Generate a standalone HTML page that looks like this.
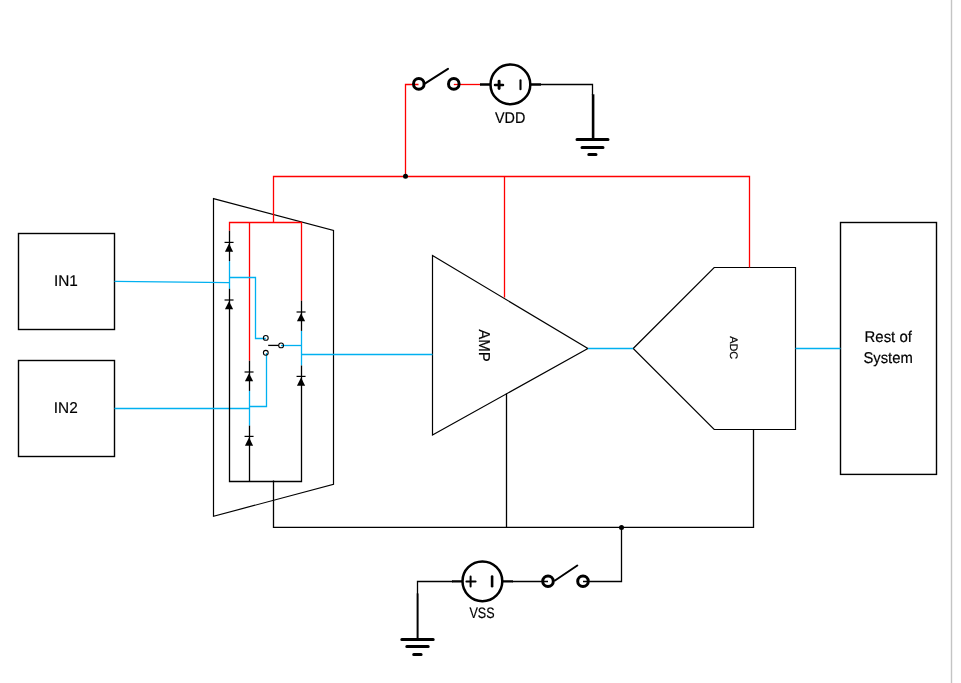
<!DOCTYPE html>
<html><head><meta charset="utf-8"><title>Circuit</title>
<style>
html,body{margin:0;padding:0;background:#fff;width:961px;height:683px;overflow:hidden;position:relative}
svg{display:block;position:absolute;left:0;top:0}
.tx{filter:grayscale(1)}
text{font-family:"Liberation Sans",sans-serif;fill:#000;stroke:#000;stroke-width:0.2px;text-rendering:geometricPrecision}
</style></head><body>
<svg width="961" height="683" viewBox="0 0 961 683">
<rect x="0" y="0" width="961" height="683" fill="#fff"/>
<!-- page border -->
<line x1="951.5" y1="0" x2="951.5" y2="683" stroke="#c4c4c4" stroke-width="1.4"/>

<g fill="none" stroke-width="1.3" stroke-linejoin="miter">
<g stroke="#000">
<!-- trapezoid -->
<polygon points="213.5,198.6 333.5,230.4 333.5,484.3 213.5,516.3" stroke-width="1.2"/>
<!-- AMP -->
<polygon points="432.5,255.5 587.9,348.5 432.5,435" stroke-width="1.2"/>
<!-- ADC -->
<polygon points="633.2,348.5 714.2,267.5 795.5,267.5 795.5,429.5 714.2,429.5" stroke-width="1.2"/>
<!-- boxes -->
<rect x="18.5" y="233.5" width="96" height="96" stroke-width="1.4"/>
<rect x="18.5" y="360.5" width="96" height="96" stroke-width="1.4"/>
<rect x="840.5" y="222.5" width="96" height="251.9" stroke-width="1.4"/>
</g>
<!-- red wires -->
<g stroke="#ff0000">
<path d="M405.5,176.5 V84.5 H418.5"/>
<path d="M453.8,84.5 H481"/>
<path d="M273.5,222.5 V176.5 H749.5 V267.5"/>
<path d="M504.5,176.5 V297.5"/>
<path d="M229.5,230.7 V222.5 H301.5 V300.7"/>
<path d="M249.5,222.5 V360.7"/>
</g>
<!-- blue wires -->
<g stroke="#00b0f0">
<path d="M114.5,281.3 L229.5,282.6"/>
<path d="M229.5,261.2 V288.8"/>
<path d="M229.5,277.5 H255.5 V338.5 H265.8"/>
<path d="M114.5,408.5 H249.5"/>
<path d="M249.5,390.9 V425.6"/>
<path d="M249.5,406.5 H266.5 V353"/>
<path d="M281,345.5 H301.5"/>
<path d="M301.5,330.9 V365.5"/>
<path d="M301.5,354.5 H432.5"/>
<path d="M587.9,348.5 H633.2"/>
<path d="M795.5,348.5 H840.5"/>
</g>
<!-- black wires -->
<g stroke="#000">
<path d="M229.5,230.7 V261.2"/>
<path d="M229.5,288.8 V481.5 H301.5 V365.5"/>
<path d="M249.5,360.7 V390.9"/>
<path d="M249.5,425.6 V481.5"/>
<path d="M301.5,300.7 V330.9"/>
<path d="M273.5,480.5 V527.4 H753.5 V429.5"/>
<path d="M506.5,393.5 V527.4"/>
<path d="M621.5,527.4 V581.5 H583"/>
<path d="M541,84.5 H592.5 V95"/>
<path d="M417.5,594 V581.5 H453"/>
<path d="M512,581.5 H548"/>
<!-- small switch -->
<path d="M268.2,345.4 H278.7"/>
<circle cx="265.8" cy="337.9" r="2.4" stroke-width="1.1"/>
<circle cx="265.8" cy="352.8" r="2.4" stroke-width="1.1"/>
<circle cx="281.1" cy="345.4" r="2.4" stroke-width="1.1"/>
</g>

</g>

<!-- diodes -->
<g fill="#000">
<rect x="224.55" y="241.80" width="9" height="1.2"/><polygon points="229.05,243.60 233.15,251.70 224.95,251.70"/>
<rect x="224.55" y="299.40" width="9" height="1.2"/><polygon points="229.05,301.20 233.15,309.30 224.95,309.30"/>
<rect x="244.55" y="371.40" width="9" height="1.2"/><polygon points="249.05,373.20 253.15,381.30 244.95,381.30"/>
<rect x="244.55" y="435.80" width="9" height="1.2"/><polygon points="249.05,437.60 253.15,445.70 244.95,445.70"/>
<rect x="296.55" y="311.40" width="9" height="1.2"/><polygon points="301.05,313.20 305.15,321.30 296.95,321.30"/>
<rect x="296.55" y="375.80" width="9" height="1.2"/><polygon points="301.05,377.60 305.15,385.70 296.95,385.70"/>
</g>

<!-- dots -->
<circle cx="405.5" cy="176.3" r="2.5" fill="#000"/>
<circle cx="621.5" cy="527.6" r="2.5" fill="#000"/>

<!-- VDD section -->
<g fill="none" stroke="#000" stroke-width="2.5">
<circle cx="418.8" cy="83.9" r="5.3" stroke-width="3"/>
<circle cx="453.8" cy="83.9" r="5.3" stroke-width="3"/>
<line x1="425.6" y1="83.2" x2="448" y2="68.9" stroke-width="2" stroke-linecap="round"/>
<path d="M480,84.5 H491 M530,84.5 H541" stroke-width="2.3"/>
<circle cx="510.4" cy="84.4" r="19.9"/>
<path d="M495,85 H503" stroke-width="2.5" stroke-linecap="round"/><path d="M499.1,81.1 V88.6" stroke-width="2.9" stroke-linecap="round"/>
<path d="M520.5,80.4 V89.3" stroke-width="2.1" stroke-linecap="round"/>
<path d="M593.1,94.3 V139" stroke-width="2.6"/>
<path d="M577,139.5 H608 M582,147.5 H603 M588.8,154.5 H596" stroke-width="3" stroke-linecap="round"/>
</g>

<!-- VSS section -->
<g fill="none" stroke="#000" stroke-width="2.5">
<circle cx="548" cy="581.2" r="5.3" stroke-width="3"/>
<circle cx="583" cy="581.2" r="5.3" stroke-width="3"/>
<line x1="555" y1="580.5" x2="577.3" y2="565.5" stroke-width="2" stroke-linecap="round"/>
<path d="M452,581.4 H463 M502,581.4 H512.9" stroke-width="2.3"/>
<circle cx="482.4" cy="581.3" r="19.9"/>
<path d="M466.4,581.5 H475.6 M470.6,576.5 V586.5" stroke-width="2" stroke-linecap="round"/>
<path d="M492.1,576.6 V586.2" stroke-width="2.6" stroke-linecap="round"/>
<path d="M417.6,593.5 V639" stroke-width="2"/>
<path d="M401.8,639.5 H433.2 M406.8,646.5 H428.2 M413.7,654.5 H421.1" stroke-width="3" stroke-linecap="round"/>
</g>
</svg>
<svg class="tx" width="961" height="683" viewBox="0 0 961 683">
<text transform="translate(53.92,285.70) scale(0.985,1)" font-size="15.6">IN1</text>
<text transform="translate(53.81,412.90) scale(0.985,1)" font-size="15.6">IN2</text>
<text transform="translate(494.96,122.80) scale(0.919,1)" font-size="15.65">VDD</text>
<text transform="translate(469.40,618.40) scale(0.830,1)" font-size="15.14">VSS</text>
<text transform="translate(864.55,342.40) scale(0.958,1)" font-size="15.6">Rest of</text>
<text transform="translate(863.40,362.50) scale(0.950,1)" font-size="15.6">System</text>
<text transform="translate(479.10,329.20) rotate(90) scale(0.951,1)" font-size="15.80">AMP</text>
<text transform="translate(730.45,336.20) rotate(90) scale(0.993,1)" font-size="11.00">ADC</text>
</svg>
</body></html>
